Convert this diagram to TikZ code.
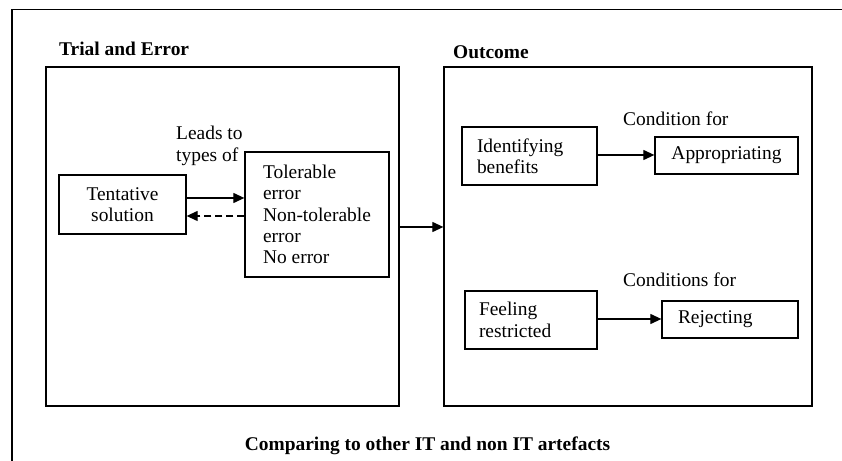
\documentclass[tikz,border=0pt]{standalone}
\usepackage{fontspec}
\setmainfont{Liberation Serif}
\usetikzlibrary{arrows.meta}
\begin{document}
\begin{tikzpicture}[x=1bp,y=-1bp,
  every node/.style={font=\fontsize{19.5}{21.5}\selectfont},
  frm/.style={line width=1.3bp},
  box/.style={draw, line width=1.3bp, inner sep=0, align=center},
  lbox/.style={draw, line width=1.3bp, inner ysep=0, align=left},
  arr/.style={-{Triangle[length=11bp,width=10bp]}, line width=1.2bp},
  darr/.style={arr, dash pattern=on 7bp off 4bp},
  ttl/.style={font=\fontsize{19.5}{22}\selectfont\bfseries, inner sep=0, anchor=base west},
  lbl/.style={inner sep=0, align=left}
]
\useasboundingbox (0,0) rectangle (842,461);
% outer frame
\coordinate (fa) at (842,9.5);
\coordinate (fb) at (12,9.5);
\coordinate (fc) at (12,461);
\draw[frm] (fa) -- (fb) -- (fc);
% big boxes
\node[box, minimum width=353bp, minimum height=339bp] (trial) at (222.5,236.5) {};
\node[box, minimum width=368bp, minimum height=339bp] (outc) at (628,236.5) {};
% titles
\node[ttl] (t1) at (59,56) {Trial and Error};
\node[ttl] (t2) at (453,59) {Outcome};
\node[ttl, anchor=base] (t3) at (427.5,450) {Comparing to other IT and non IT artefacts};
% left part
\node[box, minimum width=127bp, minimum height=59bp] (tent) at (122.5,204.5) {Tentative\\solution};
\node[lbox, minimum width=144bp, minimum height=125bp] (err) at (317,214.5) {Tolerable\\error\\Non-tolerable\\error\\No error};
\node[lbl, anchor=west] (lead) at (176,146) {Leads to\\types of};
% right part
\node[lbox, text width=105bp, inner xsep=15bp, minimum height=58bp] (iden) at (529.5,156) {Identifying\\benefits};
\node[box, minimum width=143bp, minimum height=37bp] (appr) at (726.5,155.5) {Appropriating};
\node[lbl, anchor=west] (c1) at (623,119) {Condition for};
\node[lbox, text width=104bp, inner xsep=14bp, minimum height=58bp] (feel) at (531,320) {Feeling\\restricted};
\node[lbox, text width=104bp, inner xsep=16bp, minimum height=37bp] (rej) at (730,319.5) {Rejecting};
\node[lbl, anchor=west] (c2) at (623,280) {Conditions for};
% arrow levels
\coordinate (y1) at (0,198);
\coordinate (y2) at (0,216);
\coordinate (y3) at (0,227);
\coordinate (y4) at (0,155);
\coordinate (y5) at (0,319);
\draw[arr] (tent.east |- y1) -- (err.west |- y1);
\draw[darr] (err.west |- y2) -- (tent.east |- y2);
\draw[arr] (trial.east |- y3) -- (outc.west |- y3);
\draw[arr] (iden.east |- y4) -- (appr.west |- y4);
\draw[arr] (feel.east |- y5) -- (rej.west |- y5);
\end{tikzpicture}
\end{document}
